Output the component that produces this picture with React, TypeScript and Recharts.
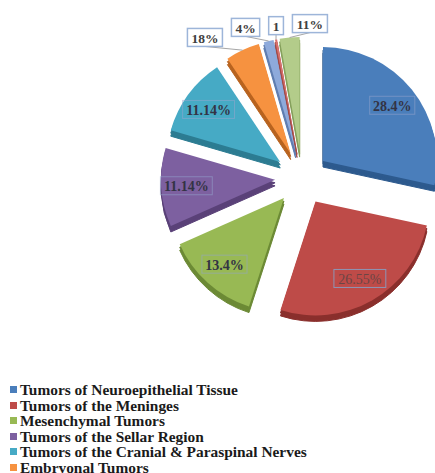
import { PieChart, Pie, Cell, Legend } from 'recharts'

const names = [
  'Tumors of Neuroepithelial Tissue',
  'Tumors of the Meninges',
  'Mesenchymal Tumors',
  'Tumors of the Sellar Region',
  'Tumors of the Cranial & Paraspinal Nerves',
  'Embryonal Tumors',
  'Germ Cell Tumors',
  'Lymphomas',
  'Metastatic Tumors',
]
const values = [28.4, 26.55, 13.4, 11.14, 11.14, 4.85, 1.4, 0.3, 2.8]
const labels = ['28.4%', '26.55%', '13.4%', '11.14%', '11.14%', '18%', '4%', '1', '11%']
const colors = ['#4a7ebb', '#be4b48', '#98b954', '#7d60a0', '#46aac5', '#f69240', '#8eaadb', '#d9706c', '#b3cc8a']
const sideColors = ['#2d5a8e', '#8a2f2c', '#6c8a35', '#5a4178', '#2c7c92', '#b8631f', '#5f7db0', '#a04a47', '#85a05c']

const data = names.map((name, i) => ({ name, value: values[i] }))

const CX = 302
const CY = 178
const R = 114
const EXPLODE = 27
const DEPTH = 6
const RAD = Math.PI / 180
const FONT = "'Liberation Serif', 'Times New Roman', serif"

const total = values.reduce((a, b) => a + b, 0)
const mids: number[] = []
let acc = 0
values.forEach((v) => {
  const start = 90 - (acc / total) * 360
  acc += v
  const end = 90 - (acc / total) * 360
  mids.push((start + end) / 2)
})
const offsets = mids.map((m) => ({ dx: EXPLODE * Math.cos(m * RAD), dy: -EXPLODE * Math.sin(m * RAD) }))

const textWidth = (s: string) =>
  s.split('').reduce((w, c) => w + (c === '%' ? 1 : c === '.' ? 0.25 : 0.5), 0) * 13.5

// small slices get their labels outside, spread so the boxes don't overlap
const boxes = values
  .map((v, i) => ({ i, v }))
  .filter((d) => d.v < 8)
  .map(({ i }) => ({
    i,
    w: textWidth(labels[i]) + 8,
    x: CX - 8 + 150 * Math.cos(mids[i] * RAD),
    y: CY - 155 * Math.sin(mids[i] * RAD),
  }))
  .sort((a, b) => a.x - b.x)
for (let k = 0; k < 200; k++) {
  for (let j = 0; j < boxes.length - 1; j++) {
    const a = boxes[j]
    const b = boxes[j + 1]
    const need = (a.w + b.w) / 2 + 9
    const diff = b.x - a.x
    if (diff < need) {
      const s = (need - diff) / 2
      a.x -= s
      b.x += s
    }
  }
}
const outPos: Record<number, { x: number; y: number; w: number }> = {}
boxes.forEach((b) => (outPos[b.i] = b))

const renderLabel = (target: number) => (props: any) => {
  if (props.index !== target) return null
  const text = labels[target]
  const h = 18
  const ecx = CX + offsets[target].dx
  const ecy = CY + offsets[target].dy
  const mid = mids[target]
  const out = outPos[target]
  if (out) {
    const rx = ecx + R * Math.cos(mid * RAD)
    const ry = ecy - R * Math.sin(mid * RAD)
    return (
      <g>
        <line x1={out.x} y1={out.y + h / 2} x2={rx} y2={ry} stroke="#a6a6a6" strokeWidth={1} />
        <rect x={out.x - out.w / 2} y={out.y - h / 2} width={out.w} height={h} fill="#fff" stroke="#9db5d9" strokeWidth={1.5} />
        <text x={out.x} y={out.y + 1} textAnchor="middle" dominantBaseline="central" fontFamily={FONT} fontWeight="bold" fontSize={13.5} fill="#404040">
          {text}
        </text>
      </g>
    )
  }
  const w = textWidth(text) + 8
  const x = ecx + R * 0.78 * Math.cos(mid * RAD)
  const y = ecy - R * 0.78 * Math.sin(mid * RAD)
  const plain = target === 1
  return (
    <g>
      <rect x={x - w / 2} y={y - h / 2} width={w} height={h} fill="none" stroke={plain ? '#8e95b5' : 'rgba(150,165,205,0.55)'} strokeWidth={1} />
      <text x={x} y={y + 1} textAnchor="middle" dominantBaseline="central" fontFamily={FONT} fontWeight={plain ? 'normal' : 'bold'} fontSize={14} fill={plain ? '#6b4545' : '#333344'}>
        {text}
      </text>
    </g>
  )
}

const LegendList = () => (
  <div>
    {names.map((n, i) => (
      <div key={n} style={{ display: 'flex', alignItems: 'center', height: 15.5, whiteSpace: 'nowrap' }}>
        <span style={{ width: 7, height: 7, background: colors[i], marginRight: 3, flex: 'none' }} />
        <span style={{ fontFamily: FONT, fontWeight: 'bold', fontSize: 15.4, lineHeight: '15.5px', color: '#1a1a1a' }}>{n}</span>
      </div>
    ))}
  </div>
)

export default function App() {
  return (
    <div style={{ position: 'fixed', left: 0, top: 0, width: 435, height: 473, overflow: 'hidden', background: '#fff' }}>
      <PieChart width={435} height={473} margin={{ top: 0, right: 0, bottom: 0, left: 0 }}>
        {[DEPTH, DEPTH / 2].flatMap((shift) =>
          data.map((_, i) => (
            <Pie
              key={`side-${shift}-${i}`}
              data={data}
              dataKey="value"
              nameKey="name"
              cx={CX + offsets[i].dx}
              cy={CY + offsets[i].dy + shift}
              outerRadius={R}
              startAngle={90}
              endAngle={-270}
              isAnimationActive={false}
              labelLine={false}
            >
              {data.map((d, j) => (
                <Cell key={d.name} fill={j === i ? sideColors[i] : 'none'} stroke={j === i ? sideColors[i] : 'none'} />
              ))}
            </Pie>
          ))
        )}
        {data.map((_, i) => (
          <Pie
            key={`top-${i}`}
            data={data}
            dataKey="value"
            nameKey="name"
            cx={CX + offsets[i].dx}
            cy={CY + offsets[i].dy}
            outerRadius={R}
            startAngle={90}
            endAngle={-270}
            isAnimationActive={false}
            labelLine={false}
            label={renderLabel(i)}
          >
            {data.map((d, j) => (
              <Cell key={d.name} fill={j === i ? colors[i] : 'none'} stroke="none" />
            ))}
          </Pie>
        ))}
        <Legend
          verticalAlign="bottom"
          align="left"
          layout="horizontal"
          wrapperStyle={{ left: 10, top: 382, bottom: 'auto', width: 425 }}
          content={() => <LegendList />}
        />
      </PieChart>
    </div>
  )
}
